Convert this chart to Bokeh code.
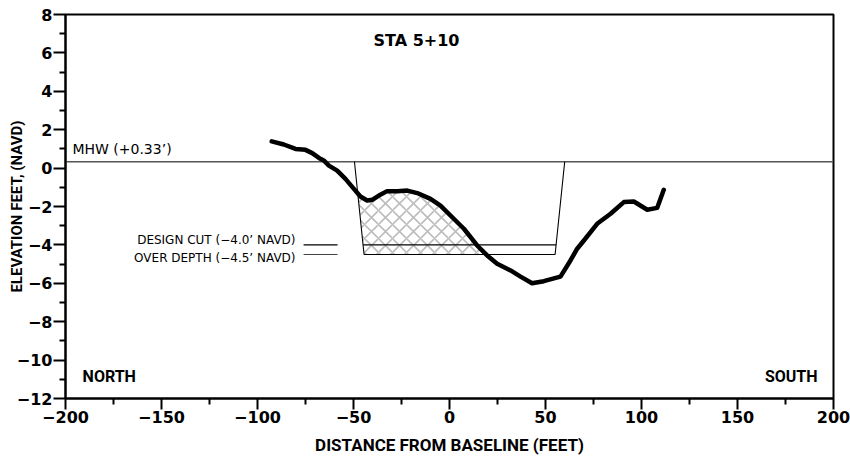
import numpy as np
from bokeh.plotting import figure
from bokeh.models import Range1d, FixedTicker, Label
from bokeh.embed import file_html
from bokeh.resources import INLINE

# ---- data ----
PROFILE_X = [-92.6, -86.3, -80.2, -75.0, -71.5, -68.0, -65.5, -62.8, -58.5, -54.2,
             -49.8, -46.4, -42.9, -40.3, -36.8, -32.5, -27.2, -22.0, -16.8, -9.9,
             -4.7, 0.5, 7.5, 14.4, 19.6, 24.8, 31.8, 37.0, 43.0, 49.1,
             57.8, 63.0, 66.5, 70.0, 76.9, 83.9, 90.8, 96.0, 103.0, 108.2, 111.6]
PROFILE_Y = [1.39, 1.23, 1.00, 0.95, 0.78, 0.53, 0.40, 0.13, -0.13, -0.56,
             -1.08, -1.48, -1.69, -1.65, -1.43, -1.20, -1.20, -1.17, -1.30, -1.60,
             -1.95, -2.47, -3.16, -4.03, -4.55, -4.98, -5.33, -5.65, -6.00, -5.89,
             -5.65, -4.81, -4.20, -3.77, -2.90, -2.38, -1.77, -1.74, -2.17, -2.07, -1.13]

MHW = 0.33
DESIGN_CUT = -4.0
OVER_DEPTH = -4.5
TEMPLATE_TOP_X = [-49.5, 60.0]     # template edges at MHW
TEMPLATE_BOT_X = [-44.5, 55.0]     # template edges at over depth

X_TICKS = [-200, -150, -100, -50, 0, 50, 100, 150, 200]
X_MINOR = [-175, -125, -75, -25, 25, 75, 125, 175]
Y_TICKS = [-12, -10, -8, -6, -4, -2, 0, 2, 4, 6, 8]
Y_MINOR = [-11, -9, -7, -5, -3, -1, 1, 3, 5, 7]

TITLE = "STA 5+10"
X_LABEL = "DISTANCE FROM BASELINE (FEET)"
Y_LABEL = "ELEVATION FEET, (NAVD)"
MHW_LABEL = "MHW (+0.33\u2019)"
DC_LABEL = "DESIGN CUT (\u22124.0\u2019 NAVD)"
OD_LABEL = "OVER DEPTH (\u22124.5\u2019 NAVD)"


def fmt(v):
    return ("\u2212" + str(abs(v))) if v < 0 else str(v)


def side_x(y, side):
    t = (MHW - y) / (MHW - OVER_DEPTH)
    return TEMPLATE_TOP_X[side] + (TEMPLATE_BOT_X[side] - TEMPLATE_TOP_X[side]) * t


# ---- hatched cut area (curve above the over-depth inside template) ----
px = np.array(PROFILE_X)
py = np.array(PROFILE_Y)
d = px - np.array([side_x(y, 0) for y in py])
i = int(np.where((d[:-1] < 0) & (d[1:] >= 0))[0][0])
f = d[i] / (d[i] - d[i + 1])
ix, iy = px[i] + f * (px[i + 1] - px[i]), py[i] + f * (py[i + 1] - py[i])
j = int(np.where((py[:-1] > OVER_DEPTH) & (py[1:] <= OVER_DEPTH) & (np.arange(len(py) - 1) > i))[0][0])
g = (py[j] - OVER_DEPTH) / (py[j] - py[j + 1])
jx = px[j] + g * (px[j + 1] - px[j])
hx = [float(ix)] + [float(v) for v in px[i + 1:j + 1]] + [float(jx), TEMPLATE_BOT_X[0]]
hy = [float(iy)] + [float(v) for v in py[i + 1:j + 1]] + [OVER_DEPTH, OVER_DEPTH]

p = figure(width=850, height=466, output_backend="svg", toolbar_location=None,
           x_range=Range1d(-200, 200), y_range=Range1d(-12, 8),
           min_border_left=65, min_border_right=17, min_border_top=14, min_border_bottom=68)
p.xgrid.visible = False
p.ygrid.visible = False
p.outline_line_color = "black"
p.outline_line_width = 2
p.outline_line_alpha = 1

TICK_FONT = "DejaVu Sans"
LAB_FONT = "Roboto"
for ax, ticks, minor in ((p.xaxis[0], X_TICKS, X_MINOR), (p.yaxis[0], Y_TICKS, Y_MINOR)):
    ax.ticker = FixedTicker(ticks=ticks, minor_ticks=minor)
    ax.major_label_overrides = {t: fmt(t) for t in ticks}
    ax.axis_line_width = 2
    ax.axis_line_color = "black"
    ax.major_tick_line_width = 2
    ax.minor_tick_line_width = 2
    ax.major_tick_in = 0
    ax.minor_tick_in = 0
    ax.major_label_text_font = TICK_FONT
    ax.major_label_text_font_style = "bold"
    ax.major_label_text_font_size = "16px"
    ax.major_label_text_color = "black"
    ax.axis_label_text_font = LAB_FONT
    ax.axis_label_text_font_style = "bold"
    ax.axis_label_text_color = "black"
p.xaxis.major_tick_out = 11
p.xaxis.minor_tick_out = 6
p.xaxis.major_label_standoff = 1
p.yaxis.major_tick_out = 12
p.yaxis.minor_tick_out = 6
p.yaxis.major_label_standoff = 1
p.xaxis.axis_label = X_LABEL
p.xaxis.axis_label_text_font_size = "17px"
p.xaxis.axis_label_standoff = 9
p.yaxis.axis_label = Y_LABEL
p.yaxis.axis_label_text_font_size = "15px"
p.yaxis.axis_label_standoff = -12

# hatch
p.patch(hx, hy, fill_color=None, line_color=None, hatch_pattern="x",
        hatch_color="#bdbdbd", hatch_scale=14, hatch_weight=1.6)

# MHW line
p.line([-200, 200], [MHW, MHW], line_color="#555555", line_width=1.6)

# template
p.line([TEMPLATE_TOP_X[0], TEMPLATE_BOT_X[0], TEMPLATE_BOT_X[1], TEMPLATE_TOP_X[1]],
       [MHW, OVER_DEPTH, OVER_DEPTH, MHW], line_color="black", line_width=1.1)
p.line([side_x(DESIGN_CUT, 0), side_x(DESIGN_CUT, 1)], [DESIGN_CUT, DESIGN_CUT],
       line_color="black", line_width=1.1)

# legend leader lines
p.line([-76, -58.3], [DESIGN_CUT, DESIGN_CUT], line_color="black", line_width=1.1)
p.line([-76, -58.3], [OVER_DEPTH, OVER_DEPTH], line_color="#444444", line_width=1.1)

# profile
p.line(PROFILE_X, PROFILE_Y, line_color="black", line_width=4.5,
       line_join="round", line_cap="round")


def add_label(x, y, text, size, style="normal", align="left", baseline="middle", font=LAB_FONT):
    p.add_layout(Label(x=x, y=y, text=text, text_font=font, text_font_size=size,
                       text_font_style=style, text_align=align, text_baseline=baseline,
                       text_color="black"))


add_label(-196.4, 0.97, MHW_LABEL, "14px", font="DejaVu Sans")
add_label(-80.2, -3.74, DC_LABEL, "12px", align="right", font="DejaVu Sans")
add_label(-80.2, -4.67, OD_LABEL, "12px", align="right", font="DejaVu Sans")
add_label(-17.2, 6.65, TITLE, "16px", style="bold", align="center", font="DejaVu Sans")
add_label(-191.1, -10.88, "NORTH", "16px", style="bold")
add_label(191.7, -10.88, "SOUTH", "16px", style="bold", align="right")

open("out.html", "w").write(file_html(p, INLINE))
